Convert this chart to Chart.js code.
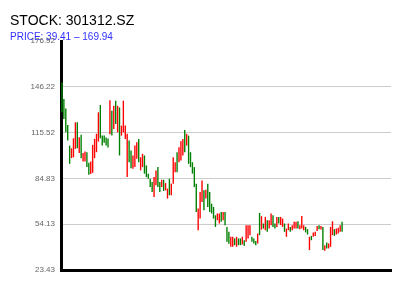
<!DOCTYPE html>
<html>
<head>
<meta charset="utf-8">
<script src="https://cdn.jsdelivr.net/npm/chart.js@4.4.0/dist/chart.umd.min.js"></script>
<style>
  html, body { margin: 0; padding: 0; background: #fff; }
  #wrap { width: 400px; height: 300px; }
</style>
</head>
<body>
<div id="wrap"><canvas id="stockChart" width="400" height="300"></canvas></div>
<script>
// chart text
const chartTitle = 'STOCK: 301312.SZ';
const chartSubtitle = 'PRICE: 39.41 – 169.94';

// y axis tick values
const yTicks = [23.43, 54.13, 84.83, 115.52, 146.22, 176.92];

// number of day slots on the x axis (data fills the first part)
const slotCount = 172;

// daily open / close
const opens = [
  149.1, 138.0, 131.7, 120.7, 106.8, 98.4, 99.0, 104.6, 122.4, 101.9,
  114.0, 96.1, 96.1, 102.4, 95.3, 87.7, 88.6, 98.4, 102.4, 109.5,
  134.0, 113.5, 113.5, 112.2, 111.5, 114.5, 130.2, 118.0, 136.9, 115.7,
  132.4, 113.5, 115.7, 111.3, 85.7, 110.2, 103.5, 91.3, 92.4, 98.0,
  111.3, 90.2, 92.4, 100.2, 93.5, 88.0, 84.6, 82.4, 72.3, 80.2,
  92.4, 82.4, 79.0, 83.9, 76.8, 71.3, 84.6, 73.5, 81.3, 89.0,
  102.4, 95.7, 96.8, 100.2, 117.3, 106.8, 113.5, 102.4, 95.7, 92.4,
  81.3, 50.1, 57.9, 69.0, 76.8, 71.3, 81.3, 75.7, 67.9, 65.7,
  60.1, 56.8, 54.6, 62.3, 56.8, 62.3, 52.3, 49.0, 39.0, 39.0,
  44.6, 39.0, 44.6, 44.6, 40.5, 43.4, 42.3, 44.6, 46.8, 45.7,
  44.6, 42.9, 41.2, 61.7, 50.5, 54.6, 50.1, 56.8, 51.2, 53.5,
  60.1, 54.6, 52.3, 59.0, 53.5, 52.3, 54.6, 45.7, 50.1, 52.3,
  50.1, 51.2, 51.2, 56.1, 50.8, 51.2, 50.1, 52.3, 50.8, 36.8,
  46.3, 45.7, 46.3, 49.5, 53.5, 50.5, 52.3, 36.3, 41.9, 37.9,
  39.0, 46.8, 50.8, 47.2, 47.9, 49.0, 55.7
];
const closes = [
  129.1, 124.7, 115.7, 110.2, 94.6, 105.0, 111.7, 122.4, 105.0, 112.4,
  98.4, 101.9, 102.8, 92.4, 87.3, 96.1, 107.3, 111.3, 114.7, 129.1,
  111.7, 106.8, 108.8, 106.8, 105.5, 137.2, 113.5, 133.5, 121.3, 133.5,
  100.2, 120.2, 136.9, 120.2, 114.7, 95.7, 91.7, 100.2, 106.8, 109.1,
  95.7, 99.0, 101.3, 88.0, 85.7, 84.6, 79.0, 75.7, 85.7, 90.2,
  79.0, 75.7, 83.9, 76.4, 81.7, 78.0, 73.5, 81.3, 99.0, 95.7,
  89.0, 105.7, 109.8, 111.3, 102.4, 114.7, 94.6, 92.4, 88.0, 79.0,
  62.3, 64.6, 75.7, 83.5, 63.5, 77.3, 65.7, 62.3, 61.3, 57.9,
  52.3, 61.3, 61.3, 55.7, 62.3, 53.5, 42.3, 41.0, 45.7, 45.7,
  40.1, 45.7, 40.1, 40.1, 45.7, 39.5, 53.5, 53.5, 53.5, 42.3,
  41.2, 40.1, 47.9, 46.8, 59.5, 51.2, 59.0, 49.0, 56.8, 61.3,
  52.3, 51.2, 59.0, 54.6, 59.0, 57.9, 49.0, 51.2, 54.6, 49.0,
  53.5, 55.7, 55.7, 51.2, 53.5, 59.7, 53.5, 48.6, 47.2, 45.7,
  43.4, 48.6, 49.0, 53.0, 50.8, 53.0, 36.8, 40.1, 37.9, 41.2,
  52.3, 56.1, 46.3, 51.2, 51.7, 53.5, 49.0
];

const UP = '#ff0000';
const DOWN = '#008000';

const days = Array.from({ length: slotCount }, (_, i) => i + 1);
const bars = opens.map((o, i) => [o, closes[i]]);
const barColors = opens.map((o, i) => closes[i] >= o ? UP : DOWN);

Chart.defaults.font.family = "'Liberation Sans', Arial, Helvetica, sans-serif";

new Chart(document.getElementById('stockChart'), {
  type: 'bar',
  data: {
    labels: days,
    datasets: [{
      data: bars,
      backgroundColor: barColors,
      borderWidth: 0,
      barPercentage: 0.72,
      categoryPercentage: 1
    }]
  },
  options: {
    responsive: false,
    animation: false,
    layout: { padding: { left: 10, right: 9, top: 0, bottom: 30 } },
    plugins: {
      legend: { display: false },
      tooltip: { enabled: false },
      title: {
        display: true,
        text: chartTitle,
        align: 'start',
        color: '#000',
        font: { size: 14, weight: 'normal', lineHeight: 1 },
        padding: { top: 14, bottom: 0 }
      },
      subtitle: {
        display: true,
        text: chartSubtitle,
        align: 'start',
        color: '#3030ff',
        font: { size: 10, weight: 'normal', lineHeight: 1 },
        padding: { top: 4, bottom: -1 }
      }
    },
    scales: {
      x: {
        grid: { display: false },
        ticks: { display: false },
        border: { display: true, color: '#000', width: 3 },
        afterFit: s => { s.height = 0; }
      },
      y: {
        min: yTicks[0],
        max: yTicks[yTicks.length - 1],
        afterBuildTicks: s => { s.ticks = yTicks.map(v => ({ value: v })); },
        afterFit: s => { s.width = 51; },
        ticks: {
          color: '#666',
          font: { size: 8 },
          padding: 6,
          callback: v => Number(v).toFixed(2)
        },
        grid: {
          drawTicks: false,
          color: c => (c.tick && (c.tick.value === yTicks[0] || c.tick.value === yTicks[yTicks.length - 1])) ? 'rgba(0,0,0,0)' : '#cccccc'
        },
        border: { display: true, color: '#000', width: 3 }
      }
    }
  }
});
</script>
</body>
</html>
